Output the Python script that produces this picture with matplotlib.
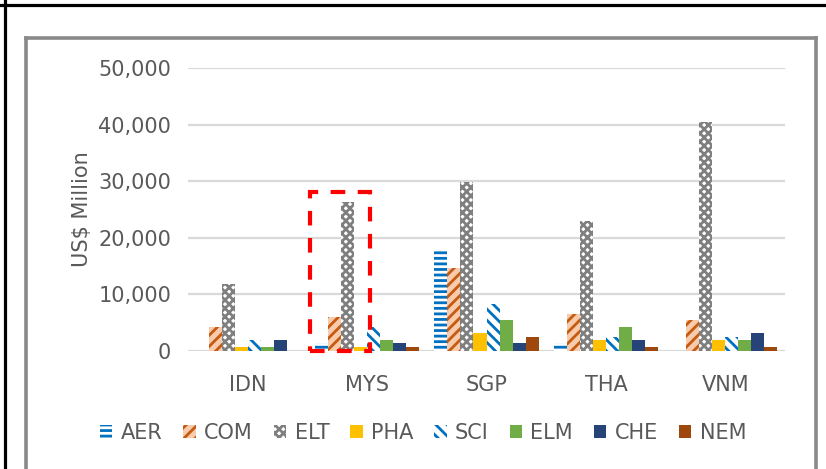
import numpy as np
import matplotlib.pyplot as plt
from matplotlib.lines import Line2D
from matplotlib.patches import Rectangle

# values (US$ million)
countries = ['IDN', 'MYS', 'SGP', 'THA', 'VNM']
AER = [0, 1400, 17700, 1400, 0]
COM = [4300, 6000, 14700, 6500, 5500]
ELT = [11800, 26300, 29900, 23000, 40400]
PHA = [700, 700, 3200, 1900, 1900]
SCI = [1900, 4200, 8300, 2500, 2500]
ELM = [700, 1900, 5500, 4200, 1900]
CHE = [1900, 1400, 1400, 1900, 3200]
NEM = [0, 700, 2500, 700, 700]

series = [
    ('AER', AER, dict(facecolor='white', edgecolor='#0070C0', hatch='---')),
    ('COM', COM, dict(facecolor='#F8CBAD', edgecolor='#C55A11', hatch='///')),
    ('ELT', ELT, dict(facecolor='white', edgecolor='#7F7F7F', hatch='xxxx')),
    ('PHA', PHA, dict(facecolor='#FFC000', edgecolor='#FFC000', hatch=None)),
    ('SCI', SCI, dict(facecolor='white', edgecolor='#0070C0', hatch='\\\\\\')),
    ('ELM', ELM, dict(facecolor='#70AD47', edgecolor='#70AD47', hatch=None)),
    ('CHE', CHE, dict(facecolor='#264478', edgecolor='#264478', hatch=None)),
    ('NEM', NEM, dict(facecolor='#9E480E', edgecolor='#9E480E', hatch=None)),
]

plt.rcParams['font.family'] = 'DejaVu Sans'
plt.rcParams['hatch.linewidth'] = 2.0

W, H = 826, 469
fig = plt.figure(figsize=(W / 100, H / 100), dpi=100)
ax = fig.add_axes([188 / W, 1 - 351 / H, (785 - 188) / W, (351 - 68) / H])

x = np.arange(len(countries))
bw = 0.109
handles = []
for i, (name, vals, style) in enumerate(series):
    off = (i - 3.5) * bw
    b = ax.bar(x + off, vals, width=bw, linewidth=0, label=name, zorder=3, **style)
    handles.append(b)

# red dashed highlight box around MYS
ax.add_patch(Rectangle((0.523, 0), 0.50, 28100, fill=False, edgecolor='#FF0000',
                       linewidth=3, linestyle=(0, (3.5, 3)), zorder=4, clip_on=False))

ax.set_xlim(-0.5, 4.5)
ax.set_ylim(0, 50000)
ax.set_yticks(range(0, 50001, 10000))
ax.set_yticklabels([f'{v:,}' for v in range(0, 50001, 10000)])
ax.set_xticks(x)
ax.set_xticklabels(countries)
ax.yaxis.grid(True, color='#D9D9D9', linewidth=1.6, zorder=0)
ax.set_axisbelow(True)
for s in ax.spines.values():
    s.set_visible(False)
ax.tick_params(axis='both', length=0, labelsize=15, labelcolor='#595959')
ax.tick_params(axis='y', pad=12)
ax.tick_params(axis='x', pad=17)
ax.set_ylabel('US$ Million', fontsize=15, color='#595959', labelpad=5)

fig.legend(handles=handles, loc='center', bbox_to_anchor=(423 / W, 1 - 433 / H),
           ncol=8, frameon=False, fontsize=15, labelcolor='#595959',
           handlelength=0.6, handleheight=0.6, handletextpad=0.4, columnspacing=1.0)

# page frame lines: black outer, gray chart border
fig.add_artist(Line2D([0, 1], [1 - 5.5 / H] * 2, color='black', linewidth=2.3))
fig.add_artist(Line2D([5 / W] * 2, [0, 1], color='black', linewidth=2.3))
gray = '#898989'
fig.add_artist(Line2D([25.5 / W] * 2, [0, 1 - 38.5 / H], color=gray, linewidth=2.6))
fig.add_artist(Line2D([816 / W] * 2, [0, 1 - 38.5 / H], color=gray, linewidth=2.6))
fig.add_artist(Line2D([25.5 / W, 816 / W], [1 - 38.5 / H] * 2, color=gray, linewidth=2.6))

fig.savefig('out.png', dpi=100)
